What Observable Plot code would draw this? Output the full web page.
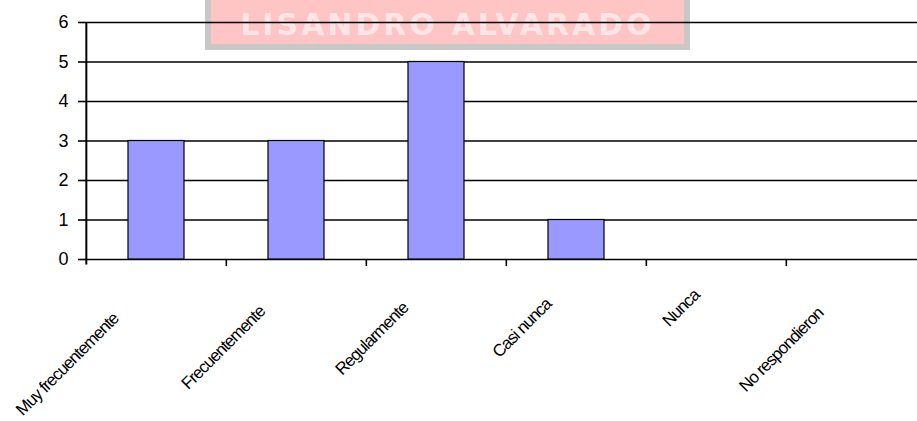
<!DOCTYPE html>
<html>
<head>
<meta charset="utf-8">
<script src="https://cdn.jsdelivr.net/npm/d3@7"></script>
<script src="https://cdn.jsdelivr.net/npm/@observablehq/plot@0.6"></script>
<style>
  html, body { margin: 0; padding: 0; background: #fff; overflow: hidden; }
  #wrap { position: relative; width: 917px; height: 421px; }
  #wm {
    position: absolute; left: 205px; top: 0; width: 473px; height: 44px;
    background: #ffc4c4; border: 6px solid #c8c8c8; border-top: 0;
    font-family: "DejaVu Sans", sans-serif; font-weight: bold; font-size: 30px;
    color: rgba(255,245,245,0.7); letter-spacing: 3px; text-align: center; line-height: 50px;
    white-space: nowrap; overflow: hidden;
  }
  #chart { position: absolute; left: 0; top: 0; }
  #chart svg { background: transparent; }
  #chart .cat text { letter-spacing: -1px; }
</style>
</head>
<body>
<div id="wrap">
  <div id="wm">LISANDRO ALVARADO</div>
  <div id="chart"></div>
</div>
<script>
const categories = ["Muy frecuentemente", "Frecuentemente", "Regularmente", "Casi nunca", "Nunca", "No respondieron"];
const values = [3, 3, 5, 1, 0, 0];
const yTicks = [0, 1, 2, 3, 4, 5, 6];

const data = categories.map((c, i) => ({category: c, value: values[i]}));
const xRange = [85, 927];
const step = (xRange[1] - xRange[0]) / categories.length;

const labelMarks = categories.map(c => Plot.text([c], {
  x: d => d, y: 0, text: d => d,
  rotate: -45, textAnchor: "end",
  dx: -(12 + 1.6 * c.length), dy: 24 + 1.8 * c.length,
  fontSize: 17, fill: "#000",
  className: "cat"
}));

const chart = Plot.plot({
  width: 917,
  height: 421,
  marginLeft: 85,
  marginRight: 0,
  marginTop: 22,
  marginBottom: 162,
  style: {fontFamily: "'Liberation Sans', Arial, sans-serif", background: "transparent", overflow: "visible"},
  x: {domain: categories, range: xRange, paddingInner: 0.6, paddingOuter: 0.3, axis: null},
  y: {domain: [0, 6], ticks: yTicks, axis: null},
  marks: [
    Plot.ruleY(yTicks, {stroke: "#000", strokeWidth: 1.6}),
    Plot.barY(data, {x: "category", y: "value", fill: "#9999ff", stroke: "#000", strokeWidth: 1.2}),
    Plot.ruleX(categories.slice(1), {x: d => d, dx: -step / 2, y1: 0, y2: -0.18, stroke: "#000", strokeWidth: 1.6}),
    Plot.ruleX(categories.slice(0, 1), {x: d => d, dx: -step / 2, y1: -0.14, y2: 6, stroke: "#000", strokeWidth: 2}),
    Plot.axisY({ticks: yTicks, label: null, tickSize: 7, tickPadding: 10, fontSize: 18, stroke: "#000", strokeWidth: 1.6, color: "#000", tickFormat: d => String(d)}),
    ...labelMarks
  ]
});
document.getElementById("chart").appendChild(chart);
</script>
</body>
</html>
